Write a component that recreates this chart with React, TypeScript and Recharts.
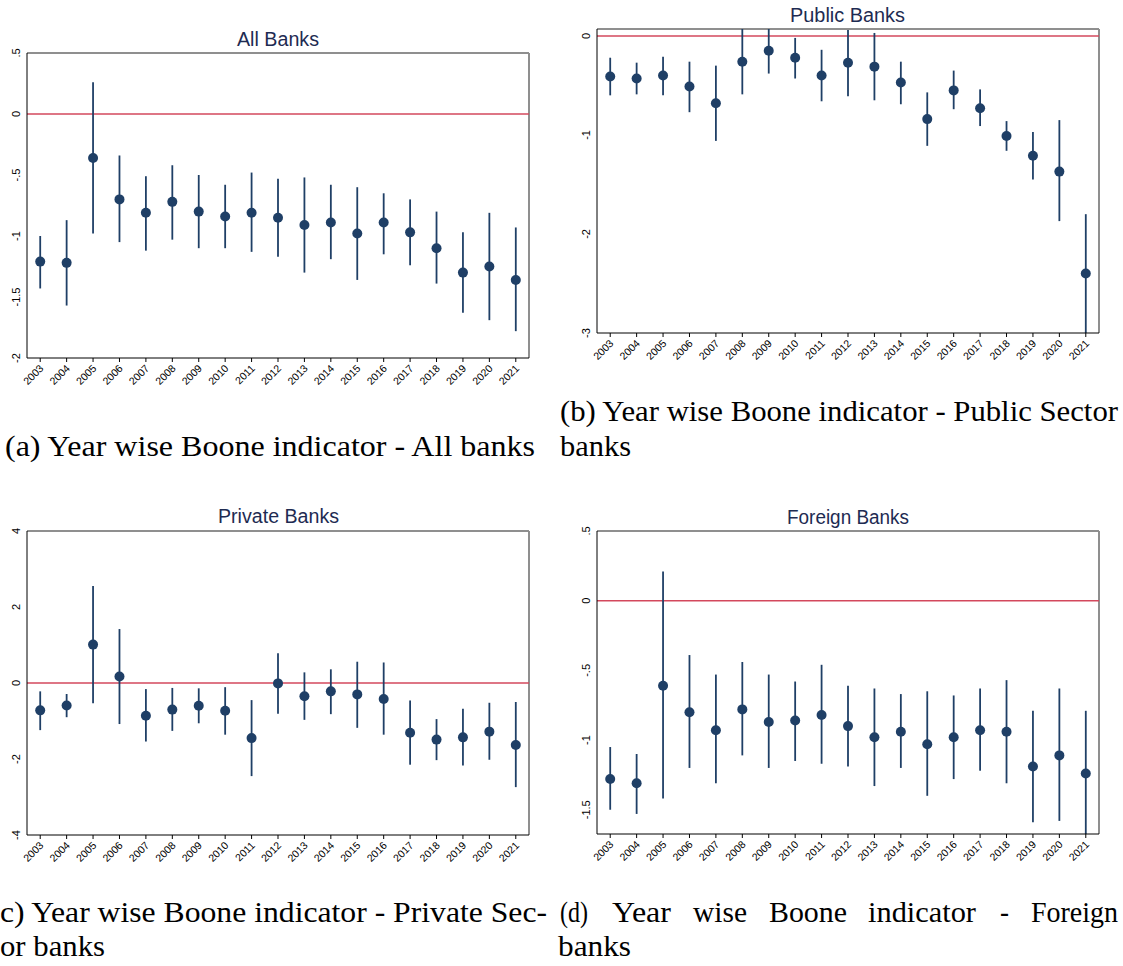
import { ComposedChart, Scatter, ErrorBar, XAxis, YAxis, ReferenceLine } from 'recharts';

const years = [2003, 2004, 2005, 2006, 2007, 2008, 2009, 2010, 2011, 2012, 2013, 2014, 2015, 2016, 2017, 2018, 2019, 2020, 2021];

// All banks
const allEst = [-1.21, -1.22, -0.36, -0.70, -0.81, -0.72, -0.80, -0.84, -0.81, -0.85, -0.91, -0.89, -0.98, -0.89, -0.97, -1.10, -1.30, -1.25, -1.36];
const allLo = [-1.43, -1.57, -0.98, -1.05, -1.12, -1.03, -1.10, -1.10, -1.13, -1.17, -1.30, -1.19, -1.36, -1.15, -1.24, -1.39, -1.63, -1.69, -1.78];
const allHi = [-1.00, -0.87, 0.26, -0.34, -0.51, -0.42, -0.50, -0.58, -0.48, -0.53, -0.52, -0.58, -0.60, -0.65, -0.70, -0.80, -0.97, -0.81, -0.93];

// Public sector banks
const pubEst = [-0.41, -0.43, -0.40, -0.51, -0.68, -0.26, -0.15, -0.22, -0.40, -0.27, -0.31, -0.47, -0.84, -0.55, -0.73, -1.01, -1.21, -1.37, -2.40];
const pubLo = [-0.60, -0.59, -0.60, -0.77, -1.06, -0.59, -0.38, -0.43, -0.66, -0.61, -0.65, -0.69, -1.11, -0.74, -0.91, -1.16, -1.45, -1.87, -3.00];
const pubHi = [-0.22, -0.27, -0.21, -0.26, -0.30, 0.07, 0.07, -0.02, -0.14, 0.06, 0.03, -0.26, -0.57, -0.35, -0.54, -0.86, -0.97, -0.85, -1.80];

// Private sector banks
const priEst = [-0.72, -0.59, 1.01, 0.17, -0.86, -0.70, -0.60, -0.73, -1.45, -0.01, -0.35, -0.22, -0.30, -0.42, -1.31, -1.49, -1.43, -1.28, -1.63];
const priLo = [-1.24, -0.90, -0.53, -1.08, -1.54, -1.26, -1.06, -1.36, -2.45, -0.81, -0.97, -0.82, -1.18, -1.36, -2.15, -2.03, -2.17, -2.02, -2.74];
const priHi = [-0.22, -0.29, 2.55, 1.42, -0.16, -0.13, -0.14, -0.11, -0.45, 0.78, 0.28, 0.36, 0.56, 0.54, -0.46, -0.95, -0.68, -0.52, -0.50];

// Foreign banks
const forEst = [-1.28, -1.31, -0.61, -0.80, -0.93, -0.78, -0.87, -0.86, -0.82, -0.90, -0.98, -0.94, -1.03, -0.98, -0.93, -0.94, -1.19, -1.11, -1.24];
const forLo = [-1.50, -1.53, -1.42, -1.20, -1.31, -1.11, -1.20, -1.15, -1.17, -1.19, -1.33, -1.20, -1.40, -1.28, -1.22, -1.31, -1.59, -1.58, -1.674];
const forHi = [-1.05, -1.10, 0.21, -0.39, -0.53, -0.44, -0.53, -0.58, -0.46, -0.61, -0.63, -0.67, -0.65, -0.68, -0.63, -0.57, -0.79, -0.63, -0.79];

const NAVY = '#1f3f66';
const RED = '#d3485d';
const FRAME = '#8f8f8f';

const fmt = (v: number) => (v === 0 ? '0' : String(v).replace('0.', '.'));

function XTick(props: any) {
    const { x, y, payload } = props;
    return (
        <text x={x + 4} y={y + 5} textAnchor="end" fontSize={10.5} fill="#000"
            fontFamily="Liberation Sans" transform={`rotate(-45, ${x + 4}, ${y + 5})`}>
            {payload.value}
        </text>
    );
}

function YTick(props: any) {
    const { x, y, payload } = props;
    return (
        <text x={x} y={y} textAnchor="middle" fontSize={11} fill="#000"
            fontFamily="Liberation Sans" transform={`rotate(-90, ${x}, ${y})`}>
            {fmt(payload.value)}
        </text>
    );
}

const Dot = (props: any) => <circle cx={props.cx} cy={props.cy} r={5} fill={NAVY} />;

function Panel({ left, top, width, height, marginTop, marginRight, yWidth, est, lo, hi, domain, ticks }: any) {
    const data = years.map((year, i) => ({ year, est: est[i], err: [est[i] - lo[i], hi[i] - est[i]] }));
    return (
        <div style={{ position: 'absolute', left, top }}>
            <ComposedChart width={width} height={height} data={data}
                margin={{ top: marginTop, right: marginRight, left: 0, bottom: 0 }}>
                <XAxis dataKey="year" type="number" domain={[2002.5, 2021.5]} ticks={years} interval={0}
                    tick={<XTick />} tickSize={4} tickLine={{ stroke: '#000' }} axisLine={{ stroke: '#000' }} height={62} />
                <YAxis type="number" domain={domain} ticks={ticks} interval={0} allowDataOverflow
                    tick={<YTick />} tickLine={false} tickSize={5} axisLine={{ stroke: '#000' }} width={yWidth} />
                <ReferenceLine y={domain[1]} stroke={FRAME} strokeWidth={2} />
                <ReferenceLine x={2021.5} stroke={FRAME} strokeWidth={2} />
                <ReferenceLine y={0} stroke={RED} strokeWidth={1.6} />
                <Scatter dataKey="est" shape={Dot} isAnimationActive={false}>
                    <ErrorBar dataKey="err" direction="y" width={0} stroke={NAVY} strokeWidth={1.8} />
                </Scatter>
            </ComposedChart>
        </div>
    );
}

const capFont = 'Liberation Serif';

// justified first line of caption (d): word, left x, width
const capDWords: [string, number, number][] = [
    ['(d)', 560, 28], ['Year', 612, 59], ['wise', 693, 54], ['Boone', 769, 78],
    ['indicator', 868, 108], ['-', 1000, 9], ['Foreign', 1031, 87],
];

export default function App() {
    return (
        <div style={{ position: 'absolute', left: 0, top: 0, width: 1123, height: 966, background: '#fff' }}>
            <Panel left={0} top={0} width={560} height={420} marginTop={53} marginRight={31} yWidth={27}
                est={allEst} lo={allLo} hi={allHi} domain={[-2, 0.5]} ticks={[0.5, 0, -0.5, -1, -1.5, -2]} />
            <Panel left={560} top={0} width={563} height={395} marginTop={29} marginRight={24} yWidth={37}
                est={pubEst} lo={pubLo} hi={pubHi} domain={[-3, 0.07]} ticks={[0, -1, -2, -3]} />
            <Panel left={0} top={480} width={560} height={417} marginTop={51} marginRight={31} yWidth={27}
                est={priEst} lo={priLo} hi={priHi} domain={[-4, 4]} ticks={[4, 2, 0, -2, -4]} />
            <Panel left={560} top={480} width={563} height={416} marginTop={51} marginRight={24} yWidth={37}
                est={forEst} lo={forLo} hi={forHi} domain={[-1.674, 0.5]} ticks={[0.5, 0, -0.5, -1, -1.5]} />
            <svg width={1123} height={966} style={{ position: 'absolute', left: 0, top: 0, pointerEvents: 'none' }}>
                <g fontFamily="Liberation Sans" fontSize={20} fill="#1e2b52">
                    <text x={237} y={46} textLength={82} lengthAdjust="spacingAndGlyphs">All Banks</text>
                    <text x={790} y={22} textLength={115} lengthAdjust="spacingAndGlyphs">Public Banks</text>
                    <text x={218} y={523} textLength={121} lengthAdjust="spacingAndGlyphs">Private Banks</text>
                    <text x={787} y={524} textLength={122} lengthAdjust="spacingAndGlyphs">Foreign Banks</text>
                </g>
                <g fontFamily={capFont} fontSize={30} fill="#000">
                    <text x={560} y={421} textLength={558} lengthAdjust="spacingAndGlyphs">(b) Year wise Boone indicator - Public Sector</text>
                    <text x={5} y={456} textLength={530} lengthAdjust="spacingAndGlyphs">(a) Year wise Boone indicator - All banks</text>
                    <text x={560} y={456} textLength={71} lengthAdjust="spacingAndGlyphs">banks</text>
                    <text x={0} y={922} textLength={547} lengthAdjust="spacingAndGlyphs">c) Year wise Boone indicator - Private Sec-</text>
                    {capDWords.map(([w, x, len]) => (
                        <text key={w} x={x} y={922} textLength={len} lengthAdjust="spacingAndGlyphs">{w}</text>
                    ))}
                    <text x={0} y={956} textLength={105} lengthAdjust="spacingAndGlyphs">or banks</text>
                    <text x={558} y={956} textLength={73} lengthAdjust="spacingAndGlyphs">banks</text>
                </g>
            </svg>
        </div>
    );
}
